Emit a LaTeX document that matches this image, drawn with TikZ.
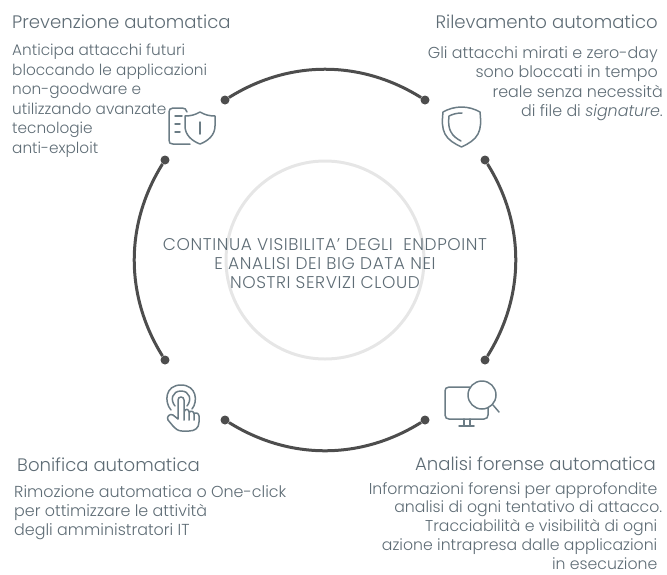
\documentclass[tikz,border=0pt]{standalone}
\usepackage{fontspec}
\setmainfont{Poppins}[UprightFont=* Light,ItalicFont=* Light Italic]
\definecolor{txt}{HTML}{5E6C75}
\definecolor{ico}{HTML}{6B7C85}
\definecolor{arcc}{HTML}{4D4D4D}
\definecolor{ring}{HTML}{E6E6E6}
\newcommand{\trail}{\rule{5pt}{0pt}}
\tikzset{
  dotn/.style={circle,fill=arcc,inner sep=0pt,minimum size=9pt},
  arcline/.style={draw=arcc,line width=3pt,bend left=32,looseness=.95},
  titletext/.style={inner sep=0pt,text=txt,font=\fontsize{18.1}{20}\selectfont},
  bodytext/.style={inner sep=0pt,text=txt},
  centertext/.style={inner sep=0pt,text=txt,align=center,font=\fontsize{17}{19.2}\selectfont\addfontfeature{LetterSpace=3.5}},
  icon/.style={draw=ico,line width=1.5pt,line cap=round,line join=round},
}
\begin{document}
\begin{tikzpicture}[x=1pt,y=-1pt]
\useasboundingbox (0,0) rectangle (667,574);
% ring
\node[circle,draw=ring,line width=3pt,minimum size=198pt,inner sep=0pt] (ringn) at (325,260) {};
% dots
\node[dotn] (a1) at (225,100) {};
\node[dotn] (a2) at (425,100) {};
\node[dotn] (b1) at (485,160) {};
\node[dotn] (b2) at (485,360) {};
\node[dotn] (c1) at (425,420) {};
\node[dotn] (c2) at (225,420) {};
\node[dotn] (d1) at (165,360) {};
\node[dotn] (d2) at (165,160) {};
% arcs
\draw[arcline] (a1) to (a2);
\draw[arcline] (b1) to (b2);
\draw[arcline] (c1) to (c2);
\draw[arcline] (d1) to (d2);
% texts
\node[titletext,anchor=base west] (t1) at (12,28.5) {Prevenzione automatica};
\node[bodytext,anchor=north west,align=left,font=\fontsize{15.3}{19.5}\selectfont] (p1) at (12,44) {Anticipa attacchi futuri\\bloccando le applicazioni\\non-goodware e\\utilizzando avanzate\\tecnologie\\anti-exploit};
\node[titletext,anchor=base east] (t2) at (658,28.5) {Rilevamento automatico};
\node[bodytext,anchor=north east,align=right,font=\fontsize{15.9}{19.6}\selectfont] (p2) at (663,46) {Gli attacchi mirati e zero-day\trail\\sono bloccati in tempo\trail\\reale senza necessità\\di file di \textit{signature}.};
\node[titletext,anchor=base west] (t3) at (17,471) {Bonifica automatica};
\node[bodytext,anchor=north west,align=left,font=\fontsize{15.9}{19.4}\selectfont] (p3) at (14,485) {Rimozione automatica o One-click\\per ottimizzare le attività\\degli amministratori IT};
\node[titletext,anchor=base east] (t4) at (656,470.5) {Analisi forense automatica};
\node[bodytext,anchor=north east,align=right,font=\fontsize{15.7}{18.9}\selectfont] (p4) at (662.5,482) {Informazioni forensi per approfondite\trail\\analisi di ogni tentativo di attacco.\\Tracciabilità e visibilità di ogni\trail\\azione intrapresa dalle applicazioni\trail\\in esecuzione\trail};
\node[centertext,anchor=north] (c) at (325,238) {CONTINUA VISIBILITA' DEGLI\ \ ENDPOINT\\E ANALISI DEI BIG DATA NEI\\NOSTRI SERVIZI CLOUD};
% icon 1: document and shield
\draw[icon] (187,112) .. controls (186,109) and (185,108) .. (182,108) -- (173,108) .. controls (170,108) and (169,110) .. (169,112) -- (169,140) .. controls (169,143) and (170,144) .. (173,144) -- (190,144);
\draw[icon] (175,116) -- (182,116) (175,124) -- (180,124) (175,132) -- (180,132);
\draw[icon] (200,112) .. controls (205,115) and (210,116) .. (215,116) -- (215,126) .. controls (215,135) and (208,141) .. (200,144) .. controls (192,141) and (185,135) .. (185,126) -- (185,116) .. controls (190,116) and (195,115) .. (200,112) -- cycle;
\draw[icon] (200,122) -- (200,134);
% icon 2: shield
\draw[icon] (461.5,107) .. controls (468,107) and (475,109) .. (480,112) .. controls (481,122) and (481,128) .. (478,134) .. controls (475,140) and (468,144) .. (461.5,147) .. controls (455,144) and (448,140) .. (445,134) .. controls (442,128) and (442,122) .. (443,112) .. controls (448,109) and (455,107) .. (461.5,107) -- cycle;
\draw[icon] (462,113) .. controls (457,113) and (453,114) .. (449,116) .. controls (448,123) and (449,129) .. (451,132) .. controls (453,136) and (457,139) .. (461,141);
% icon 3: touch
\draw[icon] (171,410) .. controls (164,402) and (165,385) .. (181,385) .. controls (197,385) and (198,402) .. (192,409);
\draw[icon] (175,406) .. controls (170,400) and (172,391) .. (181,391) .. controls (190,391) and (192,400) .. (187,406);
\draw[icon] (178,419) -- (178,400) .. controls (178,396) and (184,396) .. (184,400) -- (184,420) (184,412) .. controls (185,408) and (189,409) .. (189,412) -- (189,420) (189,413) .. controls (190,410) and (194,411) .. (194,414) -- (194,420) (194,414) .. controls (195,412) and (199,413) .. (199,416) -- (199,422) .. controls (199,428) and (195,431) .. (189,431) -- (182,431) .. controls (178,431) and (176,429) .. (173,426) -- (168,420) .. controls (166,417) and (170,413) .. (173,415) -- (178,419);
% icon 4: monitor with magnifier
\draw[icon] (470,387) -- (449,387) .. controls (446,387) and (445,389) .. (445,391) -- (445,415) .. controls (445,418) and (447,419) .. (449,419) -- (484,419) .. controls (487,419) and (488,417) .. (488,415) -- (488,408);
\draw[icon] (464,419) -- (464,425) (470,419) -- (470,425) (459,426) -- (474,426);
\draw[icon] (482,395) circle[radius=14];
\draw[icon] (493,405) -- (499,412);
\end{tikzpicture}
\end{document}
